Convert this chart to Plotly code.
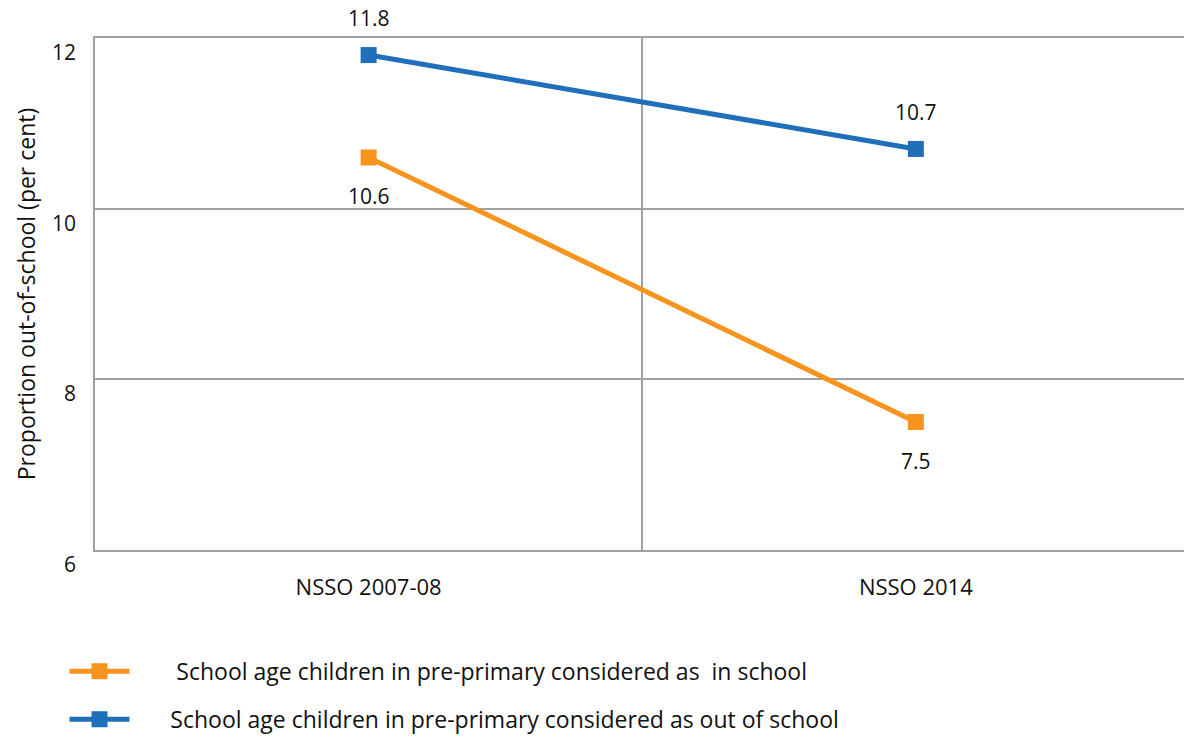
import plotly.graph_objects as go

categories = ["NSSO 2007-08", "NSSO 2014"]
in_school = [10.6, 7.5]
out_of_school = [11.8, 10.7]
name_in = "School age children in pre-primary considered as  in school"
name_out = "School age children in pre-primary considered as out of school"
y_ticks = [6, 8, 10, 12]

orange = "#f7941d"
blue = "#1f6fba"
grid = "#a0a0a0"
font_family = "Open Sans, sans-serif"

fig = go.Figure()
fig.add_trace(go.Scatter(
    x=categories, y=in_school, name="\u00a0" * 7 + name_in, mode="lines+markers",
    line=dict(color=orange, width=5), marker=dict(symbol="square", size=16, color=orange),
    legendgroup="a"))
fig.add_trace(go.Scatter(
    x=categories, y=out_of_school, name="\u00a0" * 6 + name_out, mode="lines+markers",
    line=dict(color=blue, width=5), marker=dict(symbol="square", size=16, color=blue),
    legendgroup="b"))

for c, v in zip(categories, out_of_school):
    fig.add_annotation(x=c, y=v, text=f"{v}", showarrow=False, yshift=37,
                       font=dict(size=21, color="#111", family=font_family))
for c, v in zip(categories, in_school):
    fig.add_annotation(x=c, y=v, text=f"{v}", showarrow=False, yshift=-39,
                       font=dict(size=21, color="#111", family=font_family))

fig.update_layout(
    width=1184, height=739,
    margin=dict(l=95, r=0, t=38, b=189, autoexpand=False),
    paper_bgcolor="white", plot_bgcolor="white",
    font=dict(family=font_family, size=19, color="#111"),
    showlegend=True,
    legend=dict(orientation="v", x=-0.028, xanchor="left", y=-0.195, yanchor="top",
                font=dict(size=23, color="#111"), tracegroupgap=15,
                bgcolor="rgba(0,0,0,0)", itemwidth=60),
)
fig.update_xaxes(
    type="category", range=[-0.5, 1.49], tickson="boundaries",
    showgrid=True, gridcolor=grid, gridwidth=1.5,
    ticks="", ticklabelstandoff=17, automargin=False,
    showline=True, mirror=True, linecolor=grid, linewidth=1.5,
    zeroline=False, tickfont=dict(size=22))
fig.update_yaxes(
    range=[6, 12], tickvals=y_ticks, ticktext=[str(t) for t in y_ticks],
    showgrid=True, gridcolor=grid, gridwidth=1.5, zeroline=False,
    showline=True, mirror=True, linecolor=grid, linewidth=1.5,
    ticks="", ticklabelposition="outside bottom", ticklabelstandoff=13, automargin=False,
    title=dict(text="Proportion out-of-school (per cent)", font=dict(size=23), standoff=10),
    tickfont=dict(size=21))

fig.write_html("out.html", config={"displayModeBar": False},
               post_script="document.body.style.margin='0';document.body.style.overflow='hidden';")
